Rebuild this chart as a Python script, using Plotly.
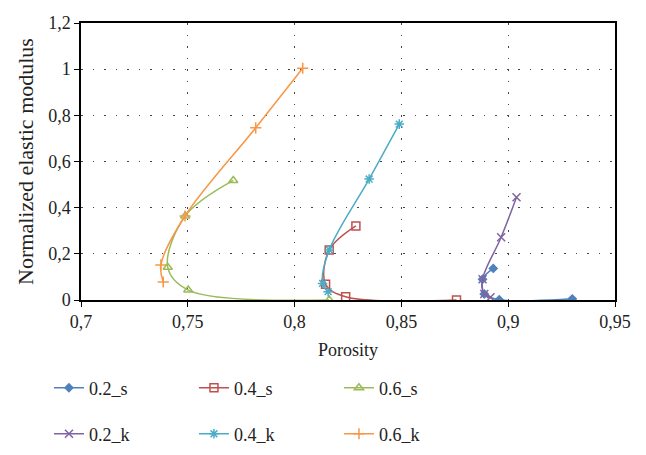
import plotly.graph_objects as go

names = ["0.2_s", "0.4_s", "0.6_s", "0.2_k", "0.4_k", "0.6_k"]
colors = ["#4F81BD", "#C0504D", "#9BBB59", "#8064A2", "#4BACC6", "#F79646"]
symbols = ["diamond", "square-open", "triangle-up-open", "x-thin", "asterisk", "cross-thin"]

x_02s = [0.893, 0.888, 0.8888, 0.8958, 0.930]
y_02s = [0.137, 0.090, 0.026, 0.001, 0.005]
x_04s = [0.8287, 0.8162, 0.8145, 0.8239, 0.8758]
y_04s = [0.321, 0.217, 0.068, 0.014, 0.0]
x_06s = [0.7713, 0.7488, 0.7406, 0.7502, 0.8162]
y_06s = [0.518, 0.364, 0.142, 0.043, 0.0]
x_02k = [0.9039, 0.8967, 0.888, 0.8888, 0.8917]
y_02k = [0.445, 0.272, 0.090, 0.026, 0.012]
x_04k = [0.849, 0.8349, 0.8162, 0.8131, 0.8157]
y_04k = [0.762, 0.524, 0.217, 0.072, 0.036]
x_06k = [0.8038, 0.7818, 0.7487, 0.7374, 0.7385]
y_06k = [1.004, 0.746, 0.364, 0.152, 0.078]

xs = [x_02s, x_04s, x_06s, x_02k, x_04k, x_06k]
ys = [y_02s, y_04s, y_06s, y_02k, y_04k, y_06k]

x_ticks = [0.7, 0.75, 0.8, 0.85, 0.9, 0.95]
y_ticks = [0, 0.2, 0.4, 0.6, 0.8, 1, 1.2]

FONT = "Liberation Serif"

fig = go.Figure()
for i in range(6):
    fig.add_trace(go.Scatter(
        x=xs[i], y=ys[i], name=names[i], mode="lines+markers",
        line=dict(color=colors[i], width=1.5, shape="spline", smoothing=1),
        marker=dict(symbol=symbols[i], size=8 if i != 0 else 6, color=colors[i],
                    line=dict(color=colors[i], width=1.5)),
        legend="legend" if i < 3 else "legend2",
    ))

axis_common = dict(showline=True, linecolor="black", linewidth=1.5, mirror=True,
                   ticks="outside", ticklen=5, tickcolor="black", showgrid=True,
                   gridcolor="#444", griddash="1.5px,10px", gridwidth=1.2,
                   zeroline=False, tickfont=dict(size=18))

fig.update_layout(
    width=638, height=447,
    margin=dict(l=73, r=31, t=15, b=155, autoexpand=False),
    paper_bgcolor="white", plot_bgcolor="white",
    separators=",.",
    font=dict(family=FONT, size=18, color="#222"),
    xaxis=dict(range=[0.7, 0.95], tickvals=x_ticks,
               title=dict(text="Porosity", standoff=12, font=dict(size=18)),
               **axis_common),
    yaxis=dict(range=[0, 1.2], tickvals=y_ticks,
               title=dict(text="Normalized elastic modulus", standoff=8, font=dict(size=22)),
               **axis_common),
    legend=dict(orientation="h", x=-0.06, y=-0.318, xanchor="left", yanchor="middle",
                entrywidth=100, entrywidthmode="pixels", itemwidth=30,
                font=dict(size=18)),
    legend2=dict(orientation="h", x=-0.06, y=-0.484, xanchor="left", yanchor="middle",
                 entrywidth=100, entrywidthmode="pixels", itemwidth=30,
                 font=dict(size=18)),
)

fig.write_html("out.html")
